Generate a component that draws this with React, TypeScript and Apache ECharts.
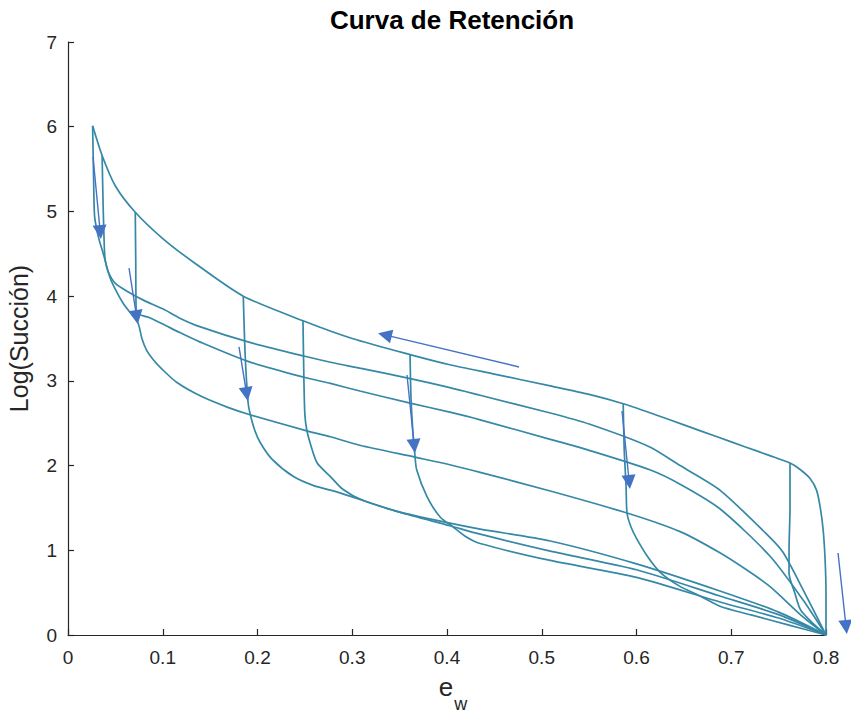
import React, { useEffect, useRef } from 'react';
import * as echarts from 'echarts';

// ---- axis ticks ----
const xTickValues = [0, 0.1, 0.2, 0.3, 0.4, 0.5, 0.6, 0.7, 0.8];
const yTickValues = [0, 1, 2, 3, 4, 5, 6, 7];

// ---- curves (x = e_w, y = Log(Succión)) ----
const mainDrying: number[][] = [
  [0.800, 0.00], [0.800, 0.50], [0.799, 0.90], [0.797, 1.24], [0.794, 1.50], [0.790, 1.71],
  [0.783, 1.85], [0.772, 1.96], [0.762, 2.03], [0.740, 2.12], [0.715, 2.22], [0.685, 2.34],
  [0.650, 2.48], [0.620, 2.60], [0.586, 2.73], [0.550, 2.84], [0.509, 2.94], [0.450, 3.08],
  [0.403, 3.19], [0.361, 3.31], [0.300, 3.50], [0.248, 3.71], [0.185, 4.00], [0.135, 4.38],
  [0.100, 4.68], [0.071, 4.99], [0.050, 5.30], [0.036, 5.66], [0.026, 6.01],
];

const mainWetting: number[][] = [
  [0.026, 6.01], [0.027, 5.40], [0.028, 4.95], [0.031, 4.75], [0.034, 4.62], [0.037, 4.51],
  [0.044, 4.23], [0.050, 4.08], [0.058, 3.92], [0.066, 3.80], [0.074, 3.68], [0.078, 3.50],
  [0.083, 3.36], [0.090, 3.25], [0.100, 3.13], [0.115, 2.98], [0.140, 2.82], [0.168, 2.69],
  [0.192, 2.60], [0.252, 2.41], [0.277, 2.34], [0.308, 2.24], [0.366, 2.10], [0.403, 2.01],
  [0.435, 1.92], [0.509, 1.70], [0.590, 1.44], [0.646, 1.22], [0.688, 0.97], [0.720, 0.74],
  [0.741, 0.57], [0.776, 0.21], [0.800, 0.00],
];

const scan036: number[][] = [
  [0.036, 5.66], [0.037, 5.10], [0.038, 4.70], [0.039, 4.45], [0.042, 4.30], [0.050, 4.15],
  [0.065, 4.04], [0.080, 3.95], [0.100, 3.85], [0.118, 3.74], [0.139, 3.64], [0.190, 3.46],
  [0.250, 3.29], [0.277, 3.22], [0.308, 3.15], [0.360, 3.03], [0.403, 2.92], [0.435, 2.83],
  [0.509, 2.62], [0.550, 2.49], [0.614, 2.22], [0.646, 2.00], [0.688, 1.71], [0.741, 1.15],
  [0.755, 0.97], [0.776, 0.53], [0.800, 0.00],
];

const scan071: number[][] = [
  [0.071, 4.99], [0.0715, 4.40], [0.072, 3.81], [0.085, 3.75], [0.100, 3.67], [0.118, 3.57],
  [0.139, 3.46], [0.190, 3.23], [0.250, 3.04], [0.277, 2.97], [0.308, 2.88], [0.360, 2.74],
  [0.403, 2.63], [0.435, 2.54], [0.509, 2.31], [0.550, 2.18], [0.614, 1.95], [0.646, 1.78],
  [0.688, 1.49], [0.741, 0.93], [0.776, 0.41], [0.800, 0.00],
];

const scan185: number[][] = [
  [0.185, 4.00], [0.187, 3.30], [0.190, 2.75], [0.192, 2.62], [0.197, 2.42], [0.203, 2.27],
  [0.215, 2.08], [0.238, 1.87], [0.260, 1.76], [0.277, 1.71], [0.300, 1.63], [0.347, 1.46],
  [0.403, 1.32], [0.435, 1.25], [0.509, 1.11], [0.600, 0.84], [0.688, 0.52], [0.750, 0.27],
  [0.800, 0.00],
];

const scan248: number[][] = [
  [0.248, 3.71], [0.249, 3.00], [0.250, 2.60], [0.252, 2.42], [0.256, 2.25], [0.263, 2.03],
  [0.277, 1.87], [0.290, 1.72], [0.311, 1.59], [0.350, 1.45], [0.403, 1.29], [0.435, 1.19],
  [0.509, 0.99], [0.600, 0.77], [0.688, 0.46], [0.750, 0.24], [0.800, 0.00],
];

const scan361: number[][] = [
  [0.361, 3.31], [0.362, 2.80], [0.364, 2.40], [0.366, 2.14], [0.368, 1.95], [0.379, 1.63],
  [0.393, 1.39], [0.406, 1.28], [0.420, 1.16], [0.435, 1.08], [0.509, 0.88], [0.600, 0.68],
  [0.688, 0.39], [0.750, 0.20], [0.800, 0.00],
];

const scan586: number[][] = [
  [0.586, 2.73], [0.587, 2.20], [0.589, 1.75], [0.590, 1.44], [0.594, 1.28], [0.600, 1.14],
  [0.612, 0.92], [0.625, 0.74], [0.645, 0.58], [0.667, 0.46], [0.688, 0.34], [0.720, 0.24],
  [0.760, 0.12], [0.800, 0.00],
];

const scan762: number[][] = [
  [0.762, 2.03], [0.762, 1.50], [0.761, 1.00], [0.761, 0.73], [0.767, 0.50], [0.773, 0.30],
  [0.785, 0.15], [0.794, 0.06], [0.800, 0.00],
];

const curves = [mainDrying, mainWetting, scan036, scan071, scan185, scan248, scan361, scan586, scan762];

// ---- annotation arrows: [start, end] in data coordinates ----
const arrows: number[][][] = [
  [[0.0264, 5.643], [0.0340, 4.757]],
  [[0.0644, 4.332], [0.0725, 3.753]],
  [[0.1805, 3.400], [0.1886, 2.844]],
  [[0.3578, 3.069], [0.3654, 2.231]],
  [[0.5847, 2.644], [0.5923, 1.806]],
  [[0.8127, 0.968], [0.8212, 0.094]],
  [[0.4760, 3.164], [0.3344, 3.543]],
];

const FONT = '"Liberation Sans", Arial, Helvetica, sans-serif';
const AXIS_COLOR = '#262626';
const CURVE_COLOR = '#3588a6';
const ARROW_COLOR = '#4472C4';

export default function App() {
  const ref = useRef<HTMLDivElement>(null);

  useEffect(() => {
    document.body.style.margin = '0';
    if (!ref.current) return;
    const chart = echarts.init(ref.current, undefined, { renderer: 'svg' });

    const series: any[] = curves.map((c) => ({
      type: 'line',
      data: c,
      showSymbol: false,
      symbol: 'none',
      smooth: 0.25,
      clip: false,
      silent: true,
      z: 2,
      lineStyle: { color: CURVE_COLOR, width: 1.7 },
    }));

    series.push({
      type: 'lines',
      coordinateSystem: 'cartesian2d',
      clip: false,
      silent: true,
      z: 3,
      symbol: ['none', 'triangle'],
      symbolSize: 14,
      lineStyle: { color: ARROW_COLOR, width: 1.4, opacity: 1, curveness: 0 },
      itemStyle: { color: ARROW_COLOR },
      data: arrows.map((a) => ({ coords: a })),
    });

    chart.setOption({
      animation: false,
      textStyle: { fontFamily: FONT },
      title: {
        text: 'Curva de Retención',
        left: 447,
        textAlign: 'center',
        top: 2,
        textStyle: { fontFamily: FONT, fontSize: 26, fontWeight: 'bold', color: '#000' },
      },
      grid: { left: 68, right: 25, top: 42, bottom: 88, outerBoundsMode: 'none' },
      xAxis: {
        type: 'value',
        min: xTickValues[0],
        max: xTickValues[xTickValues.length - 1],
        interval: 0.1,
        name: '{e|e}{w|w}',
        nameLocation: 'middle',
        nameGap: 36,
        nameTextStyle: {
          rich: {
            e: { fontSize: 26, fontFamily: FONT, color: AXIS_COLOR, padding: [0, 0, 10, 12] },
            w: { fontSize: 18, fontFamily: FONT, color: AXIS_COLOR, padding: [24, 0, 0, 1] },
          },
        },
        axisLine: { show: true, lineStyle: { color: AXIS_COLOR, width: 1.2 } },
        axisTick: { show: true, inside: true, length: 6, lineStyle: { color: AXIS_COLOR, width: 1.2 } },
        axisLabel: {
          fontSize: 19,
          color: AXIS_COLOR,
          margin: 13,
          fontFamily: FONT,
          formatter: (v: number) => String(Math.round(v * 10) / 10),
        },
        splitLine: { show: false },
      },
      yAxis: {
        type: 'value',
        min: yTickValues[0],
        max: yTickValues[yTickValues.length - 1],
        interval: 1,
        name: 'Log(Succión)',
        nameLocation: 'middle',
        nameGap: 37,
        nameTextStyle: { fontSize: 25, fontFamily: FONT, color: AXIS_COLOR },
        axisLine: { show: true, lineStyle: { color: AXIS_COLOR, width: 1.2 } },
        axisTick: { show: true, inside: true, length: 6, lineStyle: { color: AXIS_COLOR, width: 1.2 } },
        axisLabel: { fontSize: 19, color: AXIS_COLOR, margin: 11, fontFamily: FONT },
        splitLine: { show: false },
      },
      series,
    });

    return () => {
      chart.dispose();
    };
  }, []);

  return <div ref={ref} style={{ width: 851, height: 723 }} />;
}
